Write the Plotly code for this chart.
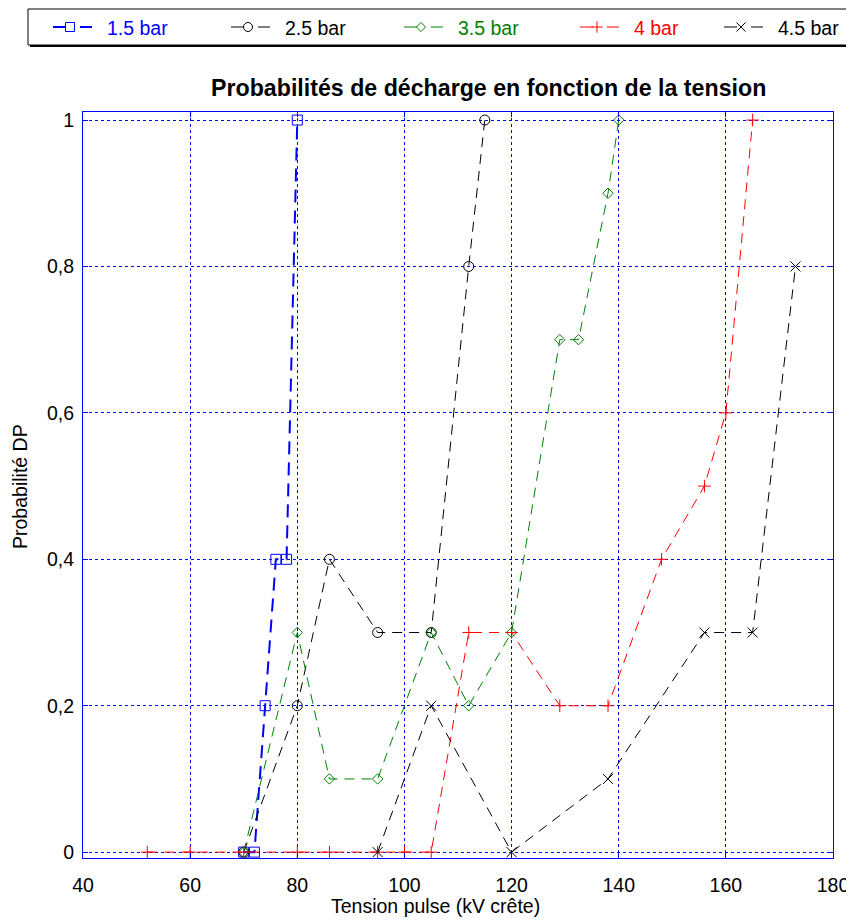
import plotly.graph_objects as go

# ---------------- data ----------------
series_names = ["1.5 bar", "2.5 bar", "3.5 bar", "4 bar", "4.5 bar"]

x_15 = [70, 72, 74, 76, 78, 80]
y_15 = [0, 0, 0.2, 0.4, 0.4, 1]

x_25 = [70, 80, 86, 95, 105, 112, 115]
y_25 = [0, 0.2, 0.4, 0.3, 0.3, 0.8, 1]

x_35 = [70, 80, 86, 95, 105, 112, 120, 129, 132.5, 138, 140]
y_35 = [0, 0.3, 0.1, 0.1, 0.3, 0.2, 0.3, 0.7, 0.7, 0.9, 1]

x_40 = [52, 60, 70, 80, 86, 95, 100, 105, 112, 120, 129, 138, 148, 156, 160, 165]
y_40 = [0, 0, 0, 0, 0, 0, 0, 0, 0.3, 0.3, 0.2, 0.2, 0.4, 0.5, 0.6, 1]

x_45 = [95, 105, 120, 138, 156, 165, 173]
y_45 = [0, 0.2, 0, 0.1, 0.3, 0.3, 0.8]

x_tick_vals = [40, 60, 80, 100, 120, 140, 160, 180]
y_tick_vals = [0, 0.2, 0.4, 0.6, 0.8, 1]
y_tick_text = ["0", "0,2", "0,4", "0,6", "0,8", "1"]

title_text = "Probabilités de décharge en fonction de la tension"
x_title = "Tension pulse (kV crête)"
y_title = "Probabilité DP"

# ---------------- styles ----------------
OFF = 8                      # page body margin of the html page
W, H = 854 - OFF, 920 - OFF
FONT = "Liberation Sans, Arial, Helvetica, sans-serif"
BLUE = "#0000ff"
GREEN = "#008000"
RED = "#ff0000"
BLACK = "#000000"


def fx(px):
    return min(1.0, max(0.0, (px - OFF) / W))


def fy(py):
    return min(1.0, max(0.0, 1 - (py - OFF) / H))


styles = [
    dict(color=BLUE, symbol="square-open", size=10, width=2, dash="13px,8px"),
    dict(color=BLACK, symbol="circle-open", size=10, width=1, dash="10px,7px"),
    dict(color=GREEN, symbol="diamond-open", size=8, width=1, dash="10px,7px"),
    dict(color=RED, symbol="cross-thin", size=9, width=1, dash="10px,7px"),
    dict(color=BLACK, symbol="x-thin", size=10, width=1, dash="10px,7px"),
]
xs = [x_15, x_25, x_35, x_40, x_45]
ys = [y_15, y_25, y_35, y_40, y_45]

# plot area in page pixels
PL, PR, PT, PB = 83, 833, 112, 858

fig = go.Figure()

for name, x, y, st in zip(series_names, xs, ys, styles):
    fig.add_trace(go.Scatter(
        x=x, y=y, name=name, mode="lines+markers", showlegend=False,
        line=dict(color=st["color"], width=st["width"], dash=st["dash"]),
        marker=dict(symbol=st["symbol"], size=st["size"], color=st["color"],
                    line=dict(color=st["color"], width=1)),
        cliponaxis=False,
        xaxis="x", yaxis="y",
    ))

# ---------------- custom legend (pixel-unit helper axes) ----------------
LG_L, LG_R, LG_T, LG_B = 28, 848, 9, 45
legend_text_x = [105, 283, 456, 632, 776]
legend_y = 27
for name, tx, st in zip(series_names, legend_text_x, styles):
    c = tx - 35
    fig.add_trace(go.Scatter(
        x=[c - 17, c + 22], y=[legend_y, legend_y], mode="lines",
        line=dict(color=st["color"], width=st["width"], dash="13px,14px"),
        showlegend=False, hoverinfo="skip", xaxis="x2", yaxis="y2",
    ))
    fig.add_trace(go.Scatter(
        x=[c], y=[legend_y], mode="markers",
        marker=dict(symbol=st["symbol"], size=st["size"] - 1, color=st["color"],
                    line=dict(color=st["color"], width=1)),
        showlegend=False, hoverinfo="skip", xaxis="x2", yaxis="y2",
        cliponaxis=False,
    ))
    fig.add_annotation(
        x=tx, y=legend_y + 1, xref="x2", yref="y2", text=name, showarrow=False,
        xanchor="left", yanchor="middle",
        font=dict(family=FONT, size=19.5, color=st["color"]),
    )

# legend box shadow + box
fig.add_shape(type="rect", xref="paper", yref="paper", layer="below",
              x0=fx(LG_L + 2), x1=fx(LG_R + 2),
              y0=fy(LG_B + 2), y1=fy(LG_T + 2),
              fillcolor="#000000", line=dict(width=0))
fig.add_shape(type="rect", xref="paper", yref="paper", layer="below",
              x0=fx(LG_L), x1=fx(LG_R), y0=fy(LG_B), y1=fy(LG_T),
              fillcolor="#ffffff", line=dict(color="#000000", width=1))

# ---------------- titles ----------------
fig.add_annotation(x=fx(488), y=fy(88), xref="paper", yref="paper",
                   text="<b>" + title_text + "</b>", showarrow=False,
                   xanchor="center", yanchor="middle",
                   font=dict(family=FONT, size=23.2, color="#000000"))
fig.add_annotation(x=fx(435), y=fy(906), xref="paper", yref="paper",
                   text=x_title, showarrow=False,
                   xanchor="center", yanchor="middle",
                   font=dict(family=FONT, size=19.5, color="#000000"))
fig.add_annotation(x=fx(20), y=fy(487), xref="paper", yref="paper",
                   text=y_title, showarrow=False, textangle=-90,
                   xanchor="center", yanchor="middle",
                   font=dict(family=FONT, size=19.5, color="#000000"))

axis_common = dict(
    ticks="inside", ticklen=5, tickcolor=BLUE, tickwidth=1,
    showline=True, linecolor=BLUE, linewidth=1, mirror="ticks",
    showgrid=True, gridcolor=BLUE, gridwidth=1, griddash="dot",
    zeroline=False, automargin=False, fixedrange=True,
    tickfont=dict(family=FONT, size=19.5, color="#000000"),
)

fig.update_layout(
    width=W, height=H, autosize=False,
    margin=dict(l=0, r=0, t=0, b=0, pad=0),
    paper_bgcolor="#ffffff", plot_bgcolor="#ffffff",
    font=dict(family=FONT, size=19.5, color="#000000"),
    showlegend=False,
    xaxis=dict(domain=[fx(PL), fx(PR)], range=[40, 180], tickmode="array",
               tickvals=x_tick_vals, ticklabelstandoff=10, anchor="y",
               **axis_common),
    yaxis=dict(domain=[fy(PB), fy(PT)], range=[-0.008, 1.011],
               tickmode="array", tickvals=y_tick_vals, ticktext=y_tick_text,
               ticklabelstandoff=4, anchor="x", **axis_common),
    xaxis2=dict(domain=[fx(LG_L), fx(LG_R)], range=[LG_L, LG_R], visible=False,
                anchor="y2", fixedrange=True),
    yaxis2=dict(domain=[fy(LG_B), fy(LG_T)], range=[LG_B, LG_T],
                visible=False, anchor="x2", fixedrange=True),
)

fig.write_html("out.html")
